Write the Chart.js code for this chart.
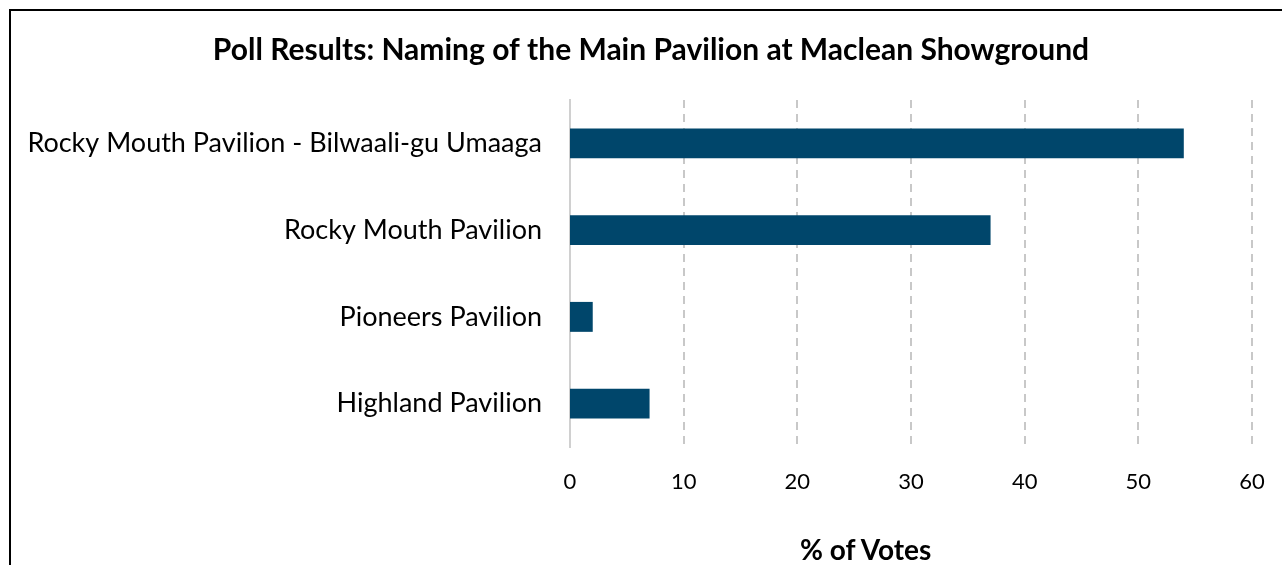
<!DOCTYPE html>
<html>
<head>
<meta charset="utf-8">
<script src="https://cdn.jsdelivr.net/npm/chart.js@4"></script>
<style>
  body { margin: 0; background: #fff; overflow: hidden; }
  .frame { position: absolute; left: 9px; top: 9px; width: 1300px; height: 600px;
           border-top: 2px solid #000; border-left: 2px solid #000; }
  .wrap { position: absolute; left: 0; top: 0; width: 1282px; height: 565px; }
  .xtitle { position: absolute; left: 800px; top: 531px; font: bold 28px Lato, sans-serif; color: #000; line-height: 36px; }
</style>
</head>
<body>
<div class="frame"></div>
<div class="wrap"><canvas id="c" width="1282" height="565"></canvas></div>
<div class="xtitle">% of Votes</div>
<script>
const categories = [
  "Rocky Mouth Pavilion - Bilwaali-gu Umaaga",
  "Rocky Mouth Pavilion",
  "Pioneers Pavilion",
  "Highland Pavilion"
];
const votes = [54, 37, 2, 7];
const xTicks = [0, 10, 20, 30, 40, 50, 60];

const ctx = document.getElementById("c").getContext("2d");
new Chart(ctx, {
  type: "bar",
  data: {
    labels: categories,
    datasets: [{
      label: "% of Votes",
      data: votes,
      backgroundColor: "#00466B",
      borderWidth: 0,
      barPercentage: 0.345,
      categoryPercentage: 1
    }]
  },
  options: {
    indexAxis: "y",
    responsive: false,
    animation: false,
    layout: { padding: { left: 0, right: 30, top: 0, bottom: 0 } },
    plugins: {
      legend: { display: false },
      tooltip: { enabled: false },
      title: {
        display: true,
        text: "Poll Results: Naming of the Main Pavilion at Maclean Showground",
        color: "#000",
        font: { family: "Lato", size: 30, weight: "bold" },
        padding: { top: 32, bottom: 32 }
      }
    },
    scales: {
      x: {
        min: 0,
        max: 60,
        afterBuildTicks: s => { s.ticks = xTicks.map(v => ({ value: v })); },
        grid: { display: false, drawTicks: false },
        border: { display: false },
        ticks: {
          color: "#000",
          padding: 22,
          font: { family: "Lato", size: 22 }
        },
        afterFit: s => { s.height = 118; s.paddingRight = 0; s.paddingLeft = 0; }
      },
      y: {
        grid: { display: false, drawTicks: false },
        border: { display: true, color: "#d0d0d0", width: 2 },
        ticks: {
          color: "#000",
          padding: 28,
          font: { family: "Lato", size: 27 }
        },
        afterFit: s => { s.width = 570; }
      }
    }
  },
  plugins: [{
    id: "dashGrid",
    afterLayout(chart) {
      // title sits a little right of the canvas centre
      const t = chart.titleBlock;
      if (t) { t.left = 50; t.right = 1252; t.width = t.right - t.left; }
    },
    beforeDatasetsDraw(chart) {
      const x = chart.scales.x;
      const a = chart.chartArea;
      const c = chart.ctx;
      c.save();
      c.strokeStyle = "#c8c8c8";
      c.lineWidth = 2;
      c.setLineDash([8, 6]);
      x.ticks.forEach(t => {
        if (t.value === 0) return;
        const px = Math.round(x.getPixelForValue(t.value));
        c.beginPath();
        c.moveTo(px, a.top);
        c.lineTo(px, a.bottom);
        c.stroke();
      });
      c.restore();
    }
  }]
});
</script>
</body>
</html>
